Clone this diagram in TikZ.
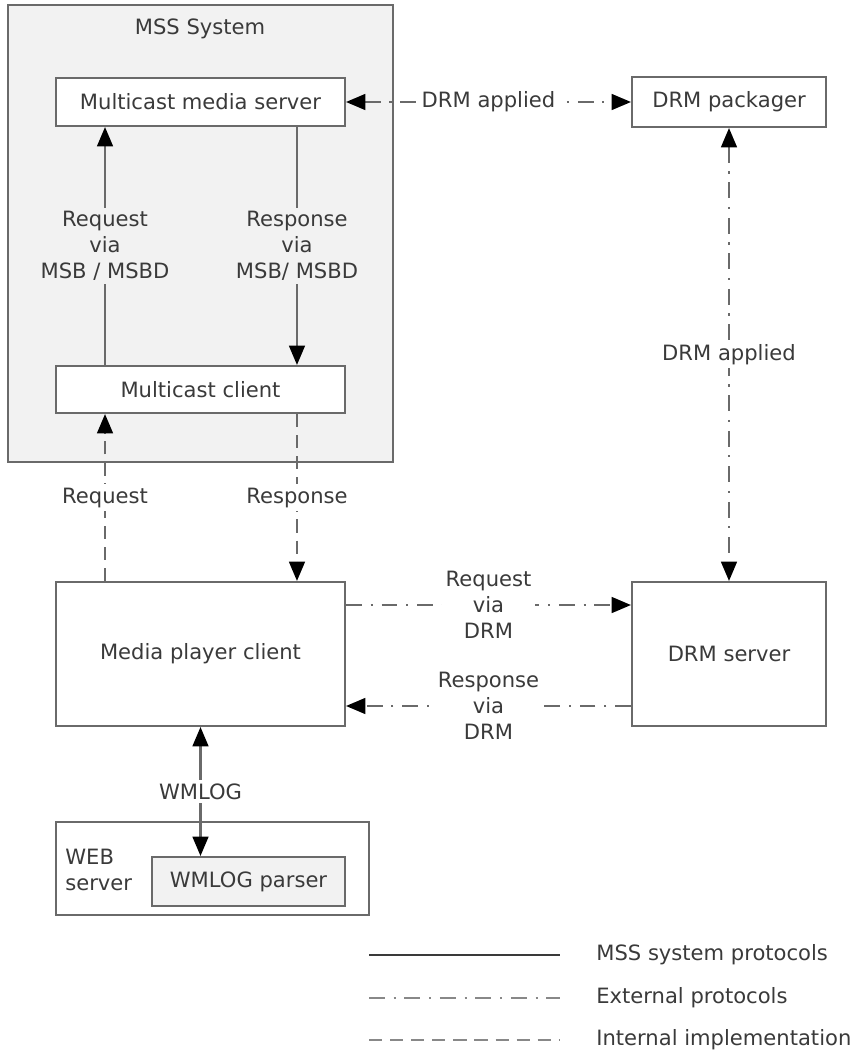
\documentclass[tikz,border=0pt]{standalone}
\usepackage{fontspec}
\setmainfont{DejaVu Sans}
\usetikzlibrary{arrows.meta,positioning}
\definecolor{mss_gray}{HTML}{F2F2F2}
\definecolor{edge_gray}{HTML}{6A6A6A}
\definecolor{ink_gray}{HTML}{3A3A3A}

\tikzset{
  box/.style={rectangle, draw=edge_gray, line width=1.2pt, fill=white, text=ink_gray, inner sep=0pt, align=center},
  lbl/.style={fill=white, text=ink_gray, inner sep=2pt, align=center, font=\fontsize{12}{14.8}\selectfont},
  tip/.style={-{Triangle[length=11pt,width=9pt,color=black]}},
  twotip/.style={{Triangle[length=11pt,width=9pt,color=black]}-{Triangle[length=11pt,width=9pt,color=black]}},
  sysline/.style={draw=edge_gray, line width=1.2pt},
  extline/.style={draw=edge_gray, line width=1.2pt, dash pattern=on 9pt off 5pt on 1.2pt off 5pt},
  intline/.style={draw=edge_gray, line width=1.2pt, dash pattern=on 7.5pt off 4.5pt}
}

\begin{document}
\begin{tikzpicture}[x=0.02cm, y=-0.02cm, font=\fontsize{12}{14.8}\selectfont]
\useasboundingbox (0,0) rectangle (856,1061);
% MSS system
\node (mss) [box, fill=mss_gray, minimum width=7.7cm, minimum height=9.14cm] at (200.5,233.5) {};
\node (msstitle) [text=ink_gray] at (200,29) {MSS System};
\node (mms) [box, minimum width=5.78cm, minimum height=0.96cm] at (200.5,102) {Multicast media server};
\node (mcl) [box, minimum width=5.78cm, minimum height=0.94cm] at (200.5,389.5) {Multicast client};
% DRM side
\node (pkg) [box, minimum width=3.88cm, minimum height=1.0cm] at (729,102) {DRM packager};
\node (drm) [box, minimum width=3.88cm, minimum height=2.88cm] at (729,654) {DRM server};
\node (mpc) [box, minimum width=5.78cm, minimum height=2.88cm] at (200.5,654) {Media player client};
% web server
\node (web) [box, minimum width=6.26cm, minimum height=1.86cm] at (212.5,868.5) {};
\node (webtxt) [text=ink_gray, align=left, anchor=west, inner sep=0pt] at (65,870) {WEB\\server};
\node (parser) [box, fill=mss_gray, minimum width=3.86cm, minimum height=0.98cm] at (248.5,881.5) {WMLOG parser};

% connectors
\draw [sysline, tip] ([xshift=-1.91cm]mcl.north) -- node[lbl, fill=mss_gray] {Request\\via\\MSB / MSBD} ([xshift=-1.91cm]mms.south);
\draw [sysline, tip] ([xshift=1.93cm]mms.south) -- node[lbl, fill=mss_gray] {Response\\via\\MSB/ MSBD} ([xshift=1.93cm]mcl.north);
\draw [intline, tip] ([xshift=-1.91cm]mpc.north) -- node[lbl] {Request} ([xshift=-1.91cm]mcl.south);
\draw [intline, tip] ([xshift=1.93cm]mcl.south) -- node[lbl] {Response} ([xshift=1.93cm]mpc.north);
\draw [extline, twotip] (mms.east) -- node[lbl] {DRM applied} (pkg.west);
\draw [extline, twotip] (pkg.south) -- node[lbl] {DRM applied} (drm.north);
\draw [extline, tip] ([yshift=0.98cm]mpc.east) -- node[lbl] {Request\\via\\DRM} ([yshift=0.98cm]drm.west);
\draw [extline, tip] ([yshift=-1.04cm]drm.west) -- node[lbl] {Response\\via\\DRM} ([yshift=-1.04cm]mpc.east);
\draw [sysline, twotip] (mpc.south) -- node[lbl] {WMLOG} (mpc.south |- parser.north);

% legend
\coordinate (l1a) at (369,955); \coordinate (l1b) at (560,955);
\coordinate (l2a) at (369,998); \coordinate (l2b) at (560,998);
\coordinate (l3a) at (369,1040); \coordinate (l3b) at (560,1040);
\draw [sysline, draw=ink_gray, line width=1.5pt] (l1a) -- (l1b);
\draw [extline, draw=edge_gray!80] (l2a) -- (l2b);
\draw [intline, draw=edge_gray!80] (l3a) -- (l3b);
\node (leg1) [anchor=west, text=ink_gray, inner sep=0pt] at (596,955) {MSS system protocols};
\node (leg2) [anchor=west, text=ink_gray, inner sep=0pt] at (596,998) {External protocols};
\node (leg3) [anchor=west, text=ink_gray, inner sep=0pt] at (596,1040) {Internal implementation};
\end{tikzpicture}
\end{document}
